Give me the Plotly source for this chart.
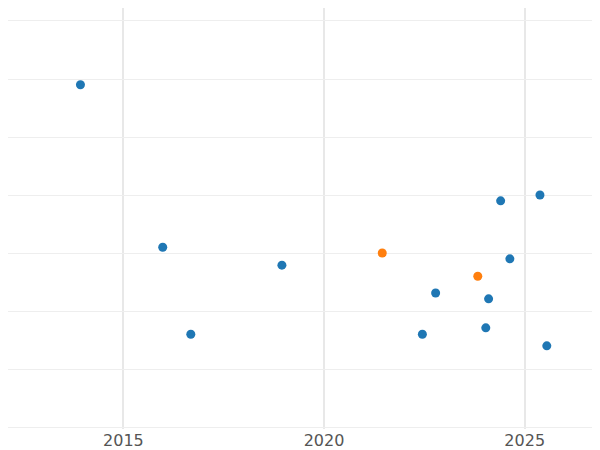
import plotly.graph_objects as go

blue_x = [2013.93, 2015.98, 2016.68, 2018.95, 2022.45, 2022.78, 2024.03, 2024.10, 2024.40, 2024.63, 2025.38, 2025.55]
blue_y = [5.90, 3.10, 1.60, 2.79, 1.60, 2.31, 1.71, 2.21, 3.90, 2.90, 4.00, 1.40]
orange_x = [2021.45, 2023.83]
orange_y = [3.00, 2.60]

fig = go.Figure()
fig.add_trace(go.Scatter(x=blue_x, y=blue_y, mode="markers",
                         marker=dict(color="#1f77b4", size=9)))
fig.add_trace(go.Scatter(x=orange_x, y=orange_y, mode="markers",
                         marker=dict(color="#ff7f0e", size=9)))
fig.update_layout(
    width=600, height=450, showlegend=False,
    margin=dict(l=0, r=0, t=0, b=29),
    plot_bgcolor="white", paper_bgcolor="white",
    font=dict(family="DejaVu Sans", size=16, color="#555"),
    xaxis=dict(range=[2012.125, 2027.075], tickvals=[2015, 2020, 2025],
               showgrid=True, gridcolor="#e8e8e8", gridwidth=2, zeroline=False,
               showline=False, ticks=""),
    yaxis=dict(range=[-0.034, 7.224], dtick=1, showticklabels=False,
               showgrid=True, gridcolor="#eeeeee", gridwidth=1, zeroline=False),
)
fig.write_html("out.html")
